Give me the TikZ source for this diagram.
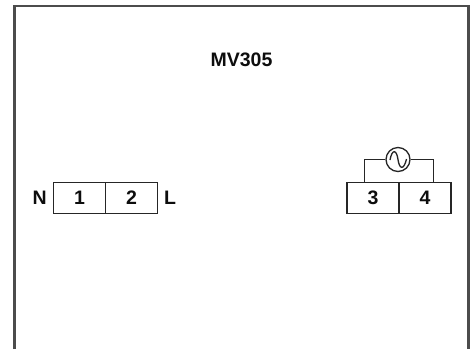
\documentclass[tikz,border=0pt]{standalone}
\usepackage{fontspec}
\setmainfont{Liberation Sans}
\tikzset{
  lbl/.style={font=\fontsize{19.5}{22}\selectfont\bfseries, text=black!95, inner sep=0pt},
  cell/.style={draw=black!85, line width=1.3pt, minimum width=52pt, minimum height=30.5pt, inner sep=0pt, font=\fontsize{19.5}{22}\selectfont\bfseries, text=black!95},
  wire/.style={draw=black!85, line width=1.3pt},
  frameline/.style={draw=black!70, line width=2.4pt}
}
\begin{document}
\begin{tikzpicture}[x=1pt,y=-1pt]
\useasboundingbox (0,0) rectangle (476,349);
\fill[white] (0,0) rectangle (476,349);
\coordinate (fbl) at (14.5,349);
\coordinate (ftl) at (14.5,6);
\coordinate (ftr) at (468.5,6);
\coordinate (fbr) at (468.5,349);
\draw[frameline, line join=miter] (fbl) -- (ftl) -- (ftr) -- (fbr);
\node[lbl] (title) at (241.5,60) {MV305};
\node[cell] (c1) at (79.5,198) {1};
\node[cell] (c2) at (131.5,198) {2};
\node[lbl, anchor=east] (n) at (47,198) {N};
\node[lbl, anchor=west] (l) at (164,198) {L};
\node[cell] (c3) at (373,198) {3};
\node[cell] (c4) at (425,198) {4};
\node[wire, circle, minimum size=24pt, inner sep=0pt, fill=white] (src) at (398,159.5) {};
\draw[wire] (390,160) .. controls (392,149) and (396.5,149) .. (398,159.5) .. controls (399.5,170) and (404,170) .. (406.5,159);
\coordinate (a) at (364.7,182.75);
\coordinate (b) at (433.3,182.75);
\draw[wire] (a) |- (src.west);
\draw[wire] (b) |- (src.east);
\end{tikzpicture}
\end{document}
